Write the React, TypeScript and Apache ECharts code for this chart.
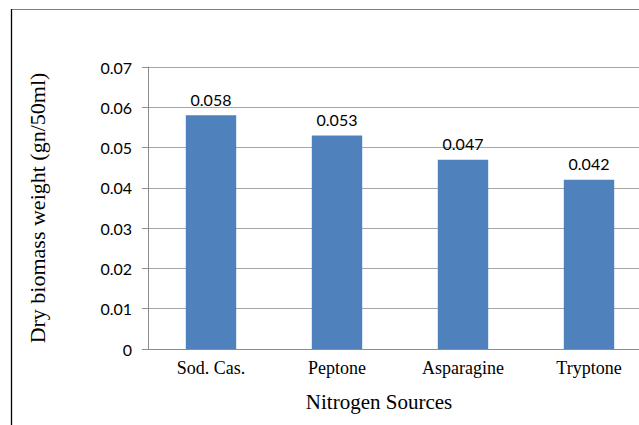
import React, { useEffect, useRef } from "react";
import * as echarts from "echarts";

const categories = ["Sod. Cas.", "Peptone", "Asparagine", "Tryptone"];
const biomass = [0.058, 0.053, 0.047, 0.042];
const yTitle = "Dry biomass weight (gn/50ml)";
const xTitle = "Nitrogen Sources";

export default function App() {
  const ref = useRef<HTMLDivElement>(null);
  useEffect(() => {
    const chart = echarts.init(ref.current!, null, { renderer: "svg" });
    chart.setOption({
      animation: false,
      backgroundColor: "#ffffff",
      grid: { left: 148, top: 67, bottom: 76, right: 8, containLabel: false },
      xAxis: {
        type: "category",
        data: categories,
        axisLine: { lineStyle: { color: "#8c8c8c", width: 1 } },
        axisTick: { show: false },
        axisLabel: {
          fontFamily: "Liberation Serif",
          fontSize: 18,
          color: "#000",
          margin: 10,
        },
      },
      yAxis: {
        type: "value",
        min: 0,
        max: 0.07,
        interval: 0.01,
        axisLine: { show: true, lineStyle: { color: "#8c8c8c", width: 1 } },
        axisTick: { show: true, length: 6, lineStyle: { color: "#8c8c8c" } },
        splitLine: { lineStyle: { color: "#a6a6a6", width: 1 } },
        axisLabel: {
          fontFamily: "Lato",
          fontSize: 16,
          color: "#000",
          margin: 16,
          formatter: (v: number) => (v === 0 ? "0" : v.toFixed(2)),
        },
      },
      series: [
        {
          type: "bar",
          data: biomass,
          barWidth: "40%",
          itemStyle: { color: "#4f81bd" },
          label: {
            show: true,
            position: "top",
            distance: 8,
            fontFamily: "Lato",
            fontSize: 16,
            color: "#000",
            formatter: (p: any) => p.value.toFixed(3),
          },
        },
      ],
      graphic: [
        {
          type: "line",
          shape: { x1: 11, y1: 9.5, x2: 639, y2: 9.5 },
          style: { stroke: "#7f7f7f", lineWidth: 1.2 },
        },
        {
          type: "line",
          shape: { x1: 11.5, y1: 9, x2: 11.5, y2: 425 },
          style: { stroke: "#000000", lineWidth: 1.3 },
        },
        {
          type: "text",
          x: 37,
          y: 208,
          rotation: Math.PI / 2,
          style: {
            text: yTitle,
            fontFamily: "Liberation Serif",
            fontSize: 22,
            fill: "#000",
            align: "center",
            verticalAlign: "middle",
          },
        },
        {
          type: "text",
          x: 379,
          y: 402,
          style: {
            text: xTitle,
            fontFamily: "Liberation Serif",
            fontSize: 21,
            fill: "#000",
            align: "center",
            verticalAlign: "middle",
          },
        },
      ],
    });
    return () => chart.dispose();
  }, []);
  return (
    <div
      style={{
        position: "fixed",
        left: 0,
        top: 0,
        width: 639,
        height: 425,
        overflow: "hidden",
        background: "#fff",
      }}
    >
      <div ref={ref} style={{ width: 660, height: 425 }} />
    </div>
  );
}
